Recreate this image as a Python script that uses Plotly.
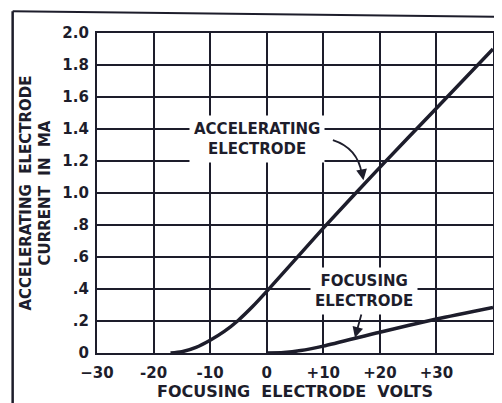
import plotly.graph_objects as go

# Data
accel_volts = [-17, -15, -12.5, -10, -7.5, -5, -2.5, 0, 10, 20, 30, 40]
accel_ma = [0.0, 0.008, 0.035, 0.08, 0.135, 0.205, 0.29, 0.385, 0.78, 1.16, 1.53, 1.90]

focus_volts = [0, 3, 6, 10, 20, 30, 40]
focus_ma = [0.0, 0.003, 0.015, 0.043, 0.13, 0.212, 0.285]

x_tick_vals = [-30, -20, -10, 0, 10, 20, 30, 40]
x_tick_text = ["\u221230", "-20", "-10", "0", "+10", "+20", "+30", ""]
y_tick_vals = [0, 0.2, 0.4, 0.6, 0.8, 1.0, 1.2, 1.4, 1.6, 1.8, 2.0]
y_tick_text = ["0", ".2", ".4", ".6", ".8", "1.0", "1.2", "1.4", "1.6", "1.8", "2.0"]

INK = "#1d1d2b"
FONT = "DejaVu Sans"

fig = go.Figure()
fig.add_trace(go.Scatter(x=accel_volts, y=accel_ma, mode="lines",
                         line=dict(color=INK, width=3.5, shape="spline", smoothing=0.7),
                         showlegend=False, hoverinfo="skip"))
fig.add_trace(go.Scatter(x=focus_volts, y=focus_ma, mode="lines",
                         line=dict(color=INK, width=3.5, shape="spline", smoothing=0.7),
                         showlegend=False, hoverinfo="skip"))

# note: page body has an 8px default margin, margins compensate for it
fig.update_layout(
    width=502, height=403,
    margin=dict(l=89, r=17, t=25, b=58),
    paper_bgcolor="white", plot_bgcolor="white",
    font=dict(family=FONT, color=INK, size=13),
    xaxis=dict(range=[-30, 40], tickvals=x_tick_vals, ticktext=x_tick_text,
               showgrid=True, gridcolor=INK, gridwidth=1.8,
               showline=True, linecolor=INK, linewidth=2.2, mirror=True,
               zeroline=False, ticks="", ticklen=0, ticklabelstandoff=5,
               tickfont=dict(family=FONT, size=15, color=INK, weight="bold"),
               title=dict(text="FOCUSING  ELECTRODE  VOLTS", standoff=1,
                          font=dict(family=FONT, size=16, color=INK, weight="bold"))),
    yaxis=dict(range=[0, 2.0], tickvals=y_tick_vals, ticktext=y_tick_text,
               showgrid=True, gridcolor=INK, gridwidth=1.8,
               showline=True, linecolor=INK, linewidth=2.2, mirror=True,
               zeroline=False, ticks="", ticklen=0, ticklabelstandoff=3,
               tickfont=dict(family=FONT, size=15, color=INK, weight="bold"),
               title=dict(text="ACCELERATING  ELECTRODE<br>CURRENT  IN  MA", standoff=8,
                          font=dict(family=FONT, size=15, color=INK, weight="bold"))),
)

# Curve labels
fig.add_annotation(x=-1.7, y=1.34, text="ACCELERATING<br>ELECTRODE", showarrow=False,
                   font=dict(family=FONT, size=15, color=INK, weight="bold"), bgcolor="white",
                   borderpad=4, align="center")
fig.add_annotation(x=17.2, y=0.385, text="FOCUSING<br>ELECTRODE", showarrow=False,
                   font=dict(family=FONT, size=15, color=INK, weight="bold"), bgcolor="white",
                   borderpad=4, align="center")

# Curved pointer for the accelerating label
fig.add_shape(type="path", xref="x", yref="y",
              path="M 11.7,1.33 Q 16.1,1.28 16.8,1.12",
              line=dict(color=INK, width=1.8))
fig.add_annotation(x=17.1, y=1.08, ax=16.8, ay=1.14, xref="x", yref="y", axref="x", ayref="y",
                   text="", showarrow=True, arrowhead=2, arrowsize=1.2, arrowwidth=1.8,
                   arrowcolor=INK)
# Pointer for the focusing label
fig.add_annotation(x=15.6, y=0.095, ax=16.8, ay=0.25, xref="x", yref="y", axref="x", ayref="y",
                   text="", showarrow=True, arrowhead=2, arrowsize=1.2, arrowwidth=1.8,
                   arrowcolor=INK)

# Scan frame edges
fig.add_shape(type="line", xref="paper", yref="paper", x0=-0.213, x1=-0.213, y0=-0.2, y1=1.068,
              line=dict(color=INK, width=2.5))
fig.add_shape(type="line", xref="paper", yref="paper", x0=-0.213, x1=1.04, y0=1.068, y1=1.05,
              line=dict(color=INK, width=2))

fig.write_html("out.html")
